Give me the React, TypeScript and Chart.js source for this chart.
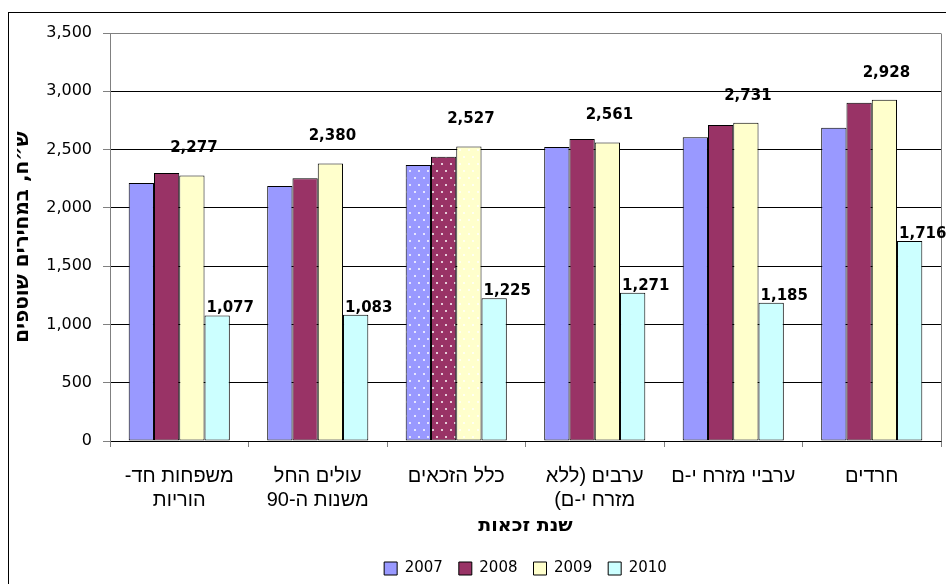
import React, { useEffect, useRef } from "react";
import { Chart, registerables } from "chart.js";

Chart.register(...registerables);

// ---------- data ----------
const categories: (string | string[])[] = [
  ["משפחות חד-", "הוריות"],
  ["עולים החל", "משנות ה-90"],
  "כלל הזכאים",
  ["ערבים (ללא", "מזרח י-ם)"],
  "ערביי מזרח י-ם",
  "חרדים",
];
const seriesNames = ["2007", "2008", "2009", "2010"];
const values2007 = [2213, 2187, 2367, 2522, 2606, 2687];
const values2008 = [2299, 2255, 2438, 2591, 2711, 2901];
const values2009 = [2277, 2380, 2527, 2561, 2731, 2928];
const values2010 = [1077, 1083, 1225, 1271, 1185, 1716];
const yMin = 0;
const yMax = 3500;
const yStep = 500;
const yAxisTitle = "ש״ח, במחירים שוטפים";
const xAxisTitle = "שנת זכאות";

// ---------- style ----------
const seriesColors = ["#9999FF", "#993366", "#FFFFCC", "#CCFFFF"];
const patternedSeries = [true, true, true, false];
const highlightCategory = 2;
const fmt = (v: number) => v.toLocaleString("en-US");

function makeDots(base: string): CanvasPattern | string {
  const c = document.createElement("canvas");
  c.width = 9;
  c.height = 14;
  const g = c.getContext("2d");
  if (!g) return base;
  g.fillStyle = base;
  g.fillRect(0, 0, 9, 14);
  g.fillStyle = "rgba(255,255,255,0.75)";
  g.fillRect(1, 1, 2, 2);
  g.fillRect(5, 8, 2, 2);
  const p = g.createPattern(c, "repeat");
  return p || base;
}

const valueLabels = {
  id: "valueLabels",
  afterDatasetsDraw(chart: any) {
    const ctx = chart.ctx as CanvasRenderingContext2D;
    ctx.save();
    ctx.font = 'bold 15px "DejaVu Sans"';
    ctx.fillStyle = "#000";
    const m9 = chart.getDatasetMeta(2);
    m9.data.forEach((bar: any, i: number) => {
      ctx.textAlign = "center";
      ctx.textBaseline = "middle";
      ctx.fillText(fmt(values2009[i]), bar.x + 2, bar.y - 27);
    });
    const m10 = chart.getDatasetMeta(3);
    m10.data.forEach((bar: any, i: number) => {
      ctx.textAlign = "left";
      ctx.textBaseline = "alphabetic";
      ctx.fillText(fmt(values2010[i]), bar.x - bar.width / 2 + 2, bar.y - 3);
    });
    ctx.restore();
  },
};

const plotFrame = {
  id: "plotFrame",
  beforeDatasetsDraw(chart: any) {
    const { ctx, chartArea: a } = chart;
    ctx.save();
    ctx.strokeStyle = "#808080";
    ctx.lineWidth = 1;
    ctx.beginPath();
    const x = Math.round(a.right) + 0.5;
    ctx.moveTo(x, Math.round(a.top) + 0.5);
    ctx.lineTo(x, Math.round(a.bottom) + 0.5);
    ctx.stroke();
    ctx.restore();
  },
};

export default function App() {
  const ref = useRef<HTMLCanvasElement | null>(null);

  useEffect(() => {
    document.documentElement.style.overflow = "hidden";
    if (!ref.current) return;
    const seriesValues = [values2007, values2008, values2009, values2010];
    const patterns = seriesColors.map((c, i) => (patternedSeries[i] ? makeDots(c) : c));
    const chart = new Chart(ref.current, {
      type: "bar",
      data: {
        labels: categories,
        datasets: seriesNames.map((name, si) => ({
          label: name,
          data: seriesValues[si],
          backgroundColor: (ctx: any) =>
            ctx.dataIndex === highlightCategory ? patterns[si] : seriesColors[si],
          borderColor: "#000",
          borderWidth: 1,
          borderSkipped: false,
          categoryPercentage: 0.73,
          barPercentage: 1,
        })),
      },
      options: {
        responsive: false,
        animation: false,
        devicePixelRatio: 1,
        layout: { padding: { top: 25, right: 5, left: 0, bottom: 0 } },
        plugins: {
          tooltip: { enabled: false },
          legend: {
            position: "bottom",
            fullSize: false,
            labels: {
              boxWidth: 13,
              boxHeight: 13,
              padding: 16,
              color: "#000",
              font: { family: "DejaVu Sans", size: 15 },
            },
          },
        },
        scales: {
          x: {
            grid: {
              display: true,
              drawOnChartArea: false,
              drawTicks: true,
              tickLength: 6,
              color: "#808080",
              offset: true,
            },
            border: { display: true, color: "#000", width: 1 },
            ticks: {
              color: "#000",
              font: { family: "Liberation Sans", size: 20, lineHeight: "24px" },
              padding: 17,
              maxRotation: 0,
              autoSkip: false,
            },
            title: {
              display: true,
              text: xAxisTitle,
              color: "#000",
              font: { family: "DejaVu Sans", size: 19, weight: "bold", lineHeight: "24px" },
              padding: { top: 0, bottom: 7 },
            },
            afterFit: (s: any) => {
              s.height = 104;
            },
          },
          y: {
            min: yMin,
            max: yMax,
            ticks: {
              stepSize: yStep,
              color: "#000",
              font: { family: "DejaVu Sans", size: 16 },
              padding: 11,
              callback: (v: any) => fmt(Number(v)),
            },
            grid: {
              color: (ctx: any) => (ctx.tick && ctx.tick.value === yMax ? "#808080" : "#000"),
              tickColor: "#808080",
              tickLength: 7,
              drawTicks: true,
            },
            border: { display: true, color: "#808080", width: 1 },
            title: {
              display: true,
              text: yAxisTitle,
              color: "#000",
              font: { family: "DejaVu Sans", size: 20, weight: "bold", lineHeight: "24px" },
              padding: { top: 3, bottom: 0 },
            },
            afterFit: (s: any) => {
              s.width = 102;
            },
          },
        },
      },
      plugins: [plotFrame, valueLabels],
    } as any);
    return () => chart.destroy();
  }, []);

  return (
    <div
      style={{
        position: "fixed",
        left: 0,
        top: 0,
        width: 946,
        height: 584,
        overflow: "hidden",
        background: "#fff",
      }}
    >
      <div
        style={{
          position: "absolute",
          top: 12,
          left: 8,
          width: 1200,
          height: 1200,
          border: "1px solid #000",
          boxSizing: "border-box",
        }}
      />
      <canvas
        ref={ref}
        dir="rtl"
        width={938}
        height={578}
        style={{ position: "absolute", top: 8, left: 8 }}
      />
    </div>
  );
}
